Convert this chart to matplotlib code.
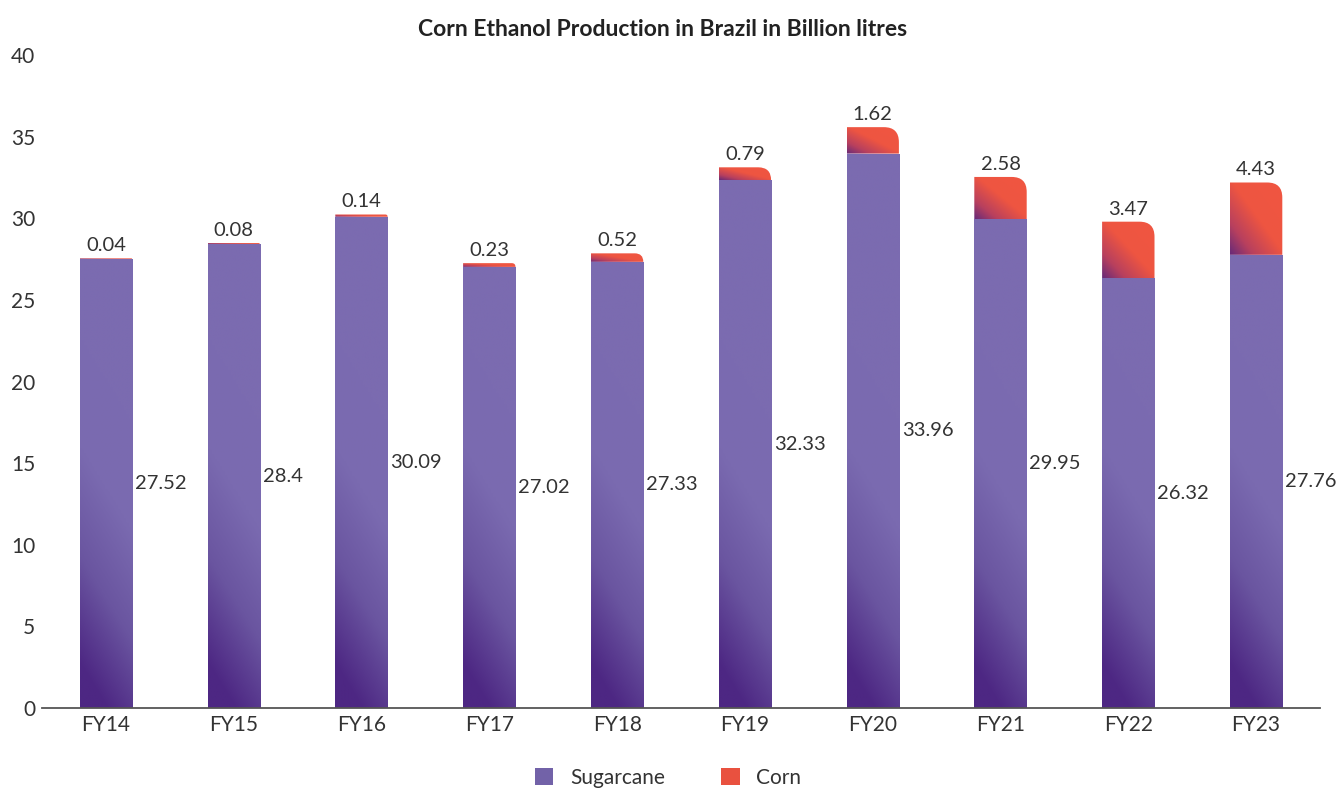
import numpy as np
import matplotlib
matplotlib.use("Agg")
import matplotlib.pyplot as plt
from matplotlib.colors import LinearSegmentedColormap
from matplotlib.path import Path
from matplotlib.patches import PathPatch, Patch

years = ["FY14", "FY15", "FY16", "FY17", "FY18", "FY19", "FY20", "FY21", "FY22", "FY23"]
sugarcane = [27.52, 28.4, 30.09, 27.02, 27.33, 32.33, 33.96, 29.95, 26.32, 27.76]
corn = [0.04, 0.08, 0.14, 0.23, 0.52, 0.79, 1.62, 2.58, 3.47, 4.43]

plt.rcParams["font.family"] = ["Lato", "DejaVu Sans"]
txt = "#333333"

cane_cmap = LinearSegmentedColormap.from_list("cane", ["#4d2783", "#6a55a0", "#7a6ab0", "#7b6bb0"])
corn_cmap = LinearSegmentedColormap.from_list("corn", [(0, "#4a2282"), (0.3, "#b8405e"), (0.6, "#ee5541"), (1, "#f05641")])

W, H = 1337, 789
fig = plt.figure(figsize=(W / 100, H / 100), dpi=100)
ax = fig.add_axes([42 / W, 1 - 708 / H, (1320 - 42) / W, (708 - 55) / H])
x = np.arange(len(years))
width = 0.41

ax.set_xlim(-0.5, len(years) - 0.5)
ax.set_ylim(0, 40)

bars = ax.bar(x, sugarcane, width, color="none", label="Sugarcane")

px_x = ax.bbox.width / len(years)
px_y = ax.bbox.height / 40

# sugarcane: dark at the base, lighter upward, slight diagonal
for b in bars:
    x0, w, h = b.get_x(), b.get_width(), b.get_height()
    yy, uu = np.mgrid[0:h:200j, 0:1:20j]
    t = np.clip(yy / 20 + (uu - 0.5) * 0.25, 0, 1)
    im = ax.imshow(t, cmap=cane_cmap, vmin=0, vmax=1, origin="lower", aspect="auto",
                   extent=[x0, x0 + w, 0, h], interpolation="bilinear", zorder=2)
    im.set_clip_path(b)

# corn: stacked on top, rounded top-right corner
for xi, base, val in zip(x, sugarcane, corn):
    x0, x1 = xi - width / 2, xi + width / 2
    y0, y1 = base, base + val
    r = min(15, val * px_y)
    rx, ry = r / px_x, r / px_y
    verts = [(x0, y0), (x0, y1), (x1 - rx, y1), (x1, y1), (x1, y1 - ry), (x1, y0), (x0, y0)]
    codes = [Path.MOVETO, Path.LINETO, Path.LINETO, Path.CURVE3, Path.CURVE3, Path.LINETO, Path.CLOSEPOLY]
    patch = PathPatch(Path(verts, codes), facecolor="none", edgecolor="none", transform=ax.transData)
    ax.add_patch(patch)
    vv, uu = np.mgrid[0:1:100j, 0:1:100j]
    t = np.clip((uu + vv) / 2 + 0.08, 0, 1)
    im = ax.imshow(t, cmap=corn_cmap, vmin=0, vmax=1, origin="lower", aspect="auto",
                   extent=[x0, x1, y0, y1], interpolation="bilinear", zorder=3)
    im.set_clip_path(patch)
    ax.annotate(f"{val:g}", (xi, y1), xytext=(0, 3), textcoords="offset points",
                ha="center", va="bottom", fontsize=14.5, color=txt)
    ax.annotate(f"{base:g}", (x1, base / 2), xytext=(2, 0), textcoords="offset points",
                ha="left", va="center", fontsize=14.5, color=txt)

ax.set_xlim(-0.5, len(years) - 0.5)
ax.set_ylim(0, 40)
ax.set_xticks(x)
ax.set_xticklabels(years)
ax.set_yticks(range(0, 41, 5))
ax.tick_params(axis="both", length=0, labelsize=15, labelcolor=txt)
ax.tick_params(axis="y", pad=5)
ax.tick_params(axis="x", pad=5)
for s in ["top", "right", "left"]:
    ax.spines[s].set_visible(False)
ax.spines["bottom"].set_color("#555555")
ax.spines["bottom"].set_linewidth(1.3)

fig.text(663 / W, 1 - 29 / H, "Corn Ethanol Production in Brazil in Billion litres",
         ha="center", va="center", fontsize=16.5, fontweight="bold", color="#222222")

handles = [Patch(facecolor="#7262a8", label="Sugarcane"), Patch(facecolor="#e9513f", label="Corn")]
fig.legend(handles=handles, loc="center", bbox_to_anchor=(668 / W, 1 - 778 / H), ncol=2,
           frameon=False, fontsize=15, handlelength=0.9, handleheight=0.9,
           handletextpad=0.8, columnspacing=2.7, labelcolor=txt)

fig.savefig("out.png", dpi=100)
